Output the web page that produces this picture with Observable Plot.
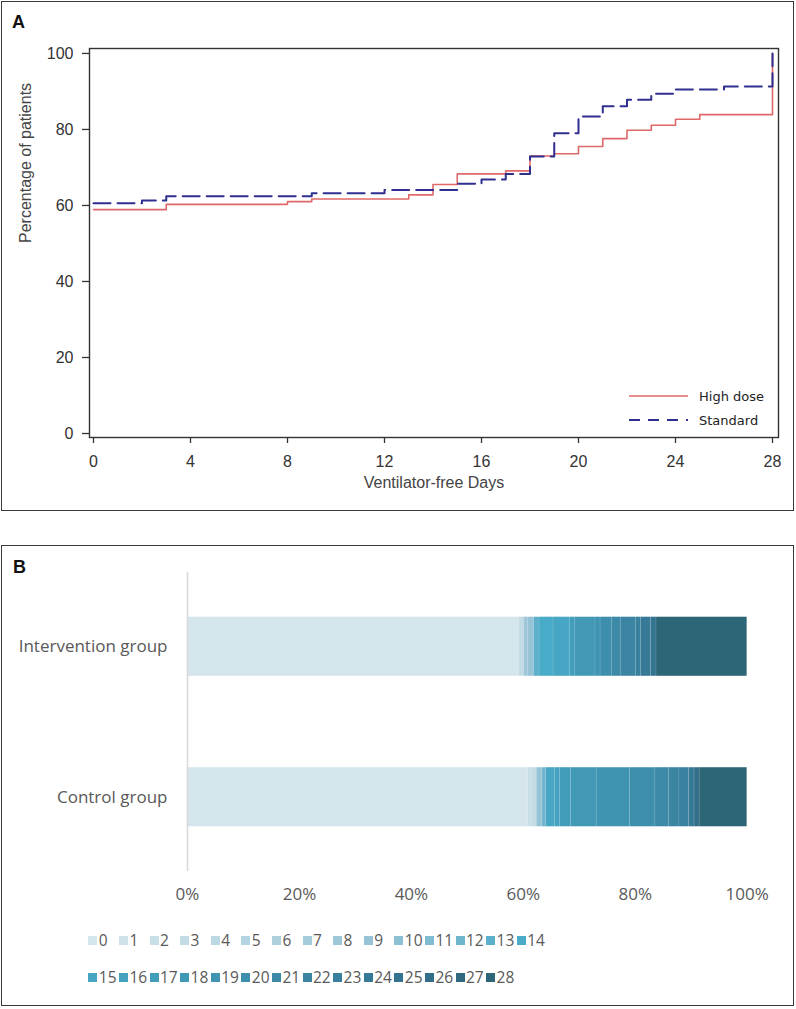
<!DOCTYPE html>
<html>
<head>
<meta charset="utf-8">
<script src="https://cdn.jsdelivr.net/npm/d3@7"></script>
<script src="https://cdn.jsdelivr.net/npm/@observablehq/plot@0.6"></script>
<style>
  body { margin: 0; background: #fff; }
  #page { position: relative; width: 796px; height: 1009px; overflow: hidden; background: #fff; }
  .panel { position: absolute; box-sizing: border-box; border: 1.5px solid #3a3a3a; }
  .tag { position: absolute; font: bold 18px "Liberation Sans", Arial, sans-serif; color: #111; line-height: 18px; }
  .abs { position: absolute; }
  .lg-sw { position: absolute; width: 9px; height: 9px; }
  .lg-tx { position: absolute; font: 15.5px "Open Sans", sans-serif; color: #595959; line-height: 20px; white-space: nowrap; }
</style>
</head>
<body>
<div id="page">
  <div class="panel" style="left:1px;top:1px;width:793px;height:510px;"></div>
  <div class="panel" style="left:1px;top:545px;width:793px;height:461px;"></div>
  <div class="tag" style="left:12px;top:13px;">A</div>
  <div class="tag" style="left:13px;top:558px;">B</div>
  <div id="plotA" class="abs" style="left:0;top:0;"></div>
  <div id="legendA" class="abs" style="left:620px;top:384px;"></div>
  <div id="plotB" class="abs" style="left:0;top:546px;"></div>
  <div id="legendB" class="abs" style="left:0;top:0;"></div>
</div>
<script>
// ---------- Panel A data (cumulative curves) ----------
const seriesNames = ["High dose", "Standard"];
const seriesColors = ["#e06868", "#2f2f8f"];
const highDoseDays = [0, 3, 8, 9, 13, 14, 15, 17, 18, 19, 20, 21, 22, 23, 24, 25, 28];
const highDosePct  = [58.9, 60.3, 61.0, 61.7, 62.8, 65.5, 68.3, 69.1, 73.0, 73.6, 75.5, 77.6, 79.8, 81.1, 82.7, 83.9, 100];
const standardDays = [0, 2, 3, 9, 12, 15, 16, 17, 18, 19, 20, 21, 22, 23, 24, 26, 28];
const standardPct  = [60.6, 61.3, 62.4, 63.2, 64.1, 65.7, 66.8, 68.3, 72.9, 79.0, 83.4, 86.1, 87.8, 89.4, 90.5, 91.3, 100];
const xTicksA = [0, 4, 8, 12, 16, 20, 24, 28];
const yTicksA = [0, 20, 40, 60, 80, 100];
const xTitleA = "Ventilator-free Days";
const yTitleA = "Percentage of patients";

// ---------- Panel B data (stacked distribution of ventilator-free days) ----------
const groups = ["Intervention group", "Control group"];
const vfdDays = [0,1,2,3,4,5,6,7,8,9,10,11,12,13,14,15,16,17,18,19,20,21,22,23,24,25,26,27,28];
const vfdColors = ["#d5e5ec","#cfe2ea","#c9dfe8","#c3dbe5","#bcd8e3","#b5d4e1","#aed0de","#a6ccdb","#9ec8d9","#96c4d6","#8cc0d4","#80bbd1","#70b5ce","#5db0cb","#48abc7","#46a6c3","#44a1bf","#429dbb","#4199b6","#3f94b2","#3e8fad","#3c8aa8","#3b85a3","#39809e","#377a98","#357491","#326e89","#306880","#2d6676"];
const interventionDays = [0, 3, 8, 9, 13, 14, 15, 17, 18, 19, 20, 21, 22, 23, 24, 25, 28];
const interventionPct  = [59.2, 0.9, 0.8, 1.0, 1.0, 2.5, 3.0, 0.9, 3.6, 0.9, 2.1, 1.5, 2.7, 0.9, 1.8, 1.0, 16.2];
const controlDays = [0, 2, 3, 9, 12, 15, 16, 17, 18, 19, 20, 21, 22, 23, 24, 26, 28];
const controlPct  = [60.8, 0.7, 0.9, 1.0, 0.7, 1.6, 0.9, 1.9, 4.6, 6.0, 4.5, 2.4, 1.9, 1.7, 1.0, 0.9, 8.5];
const xTicksB = [0, 20, 40, 60, 80, 100];

// ---------- Panel A ----------
const highRows = highDoseDays.map((d, i) => ({day: d, pct: highDosePct[i]}));
const stdRows = standardDays.map((d, i) => ({day: d, pct: standardPct[i]}));

const plotA = Plot.plot({
  width: 796,
  height: 511,
  marginLeft: 89,
  marginRight: 18,
  marginTop: 48,
  marginBottom: 74,
  x: {domain: [-0.165, 28.247]},
  y: {domain: [-1.05, 101.3]},
  style: {fontFamily: '"Liberation Sans", Arial, sans-serif', fontSize: "16px", color: "#333", background: "transparent", overflow: "visible"},
  marks: [
    Plot.axisX({ticks: xTicksA, tickSize: 6, tickPadding: 12, label: null, strokeWidth: 1.3}),
    Plot.axisY({ticks: yTicksA, tickSize: 7, tickPadding: 9, label: null, strokeWidth: 1.3}),
    Plot.line(highRows, {x: "day", y: "pct", curve: "step-after", stroke: seriesColors[0], strokeWidth: 1.6}),
    Plot.line(stdRows, {x: "day", y: "pct", curve: "step-after", stroke: seriesColors[1], strokeWidth: 2, strokeDasharray: "17,7"}),
    Plot.frame({stroke: "#333", strokeWidth: 1.4}),
    Plot.text([xTitleA], {frameAnchor: "bottom", dy: 50, fill: "#444", fontSize: 16}),
    Plot.text([yTitleA], {frameAnchor: "left", dx: -64, rotate: -90, fill: "#444", fontSize: 16})
  ]
});
document.getElementById("plotA").appendChild(plotA);

// legend A
const lgA = d3.select("#legendA").append("svg").attr("width", 170).attr("height", 50);
const lgRows = lgA.selectAll("g").data(seriesNames).join("g")
  .attr("transform", (d, i) => `translate(0,${12 + i * 24})`);
lgRows.append("line")
  .attr("x1", 9).attr("x2", 68).attr("y1", 0).attr("y2", 0)
  .attr("stroke", (d, i) => seriesColors[i])
  .attr("stroke-width", (d, i) => i === 0 ? 1.6 : 2)
  .attr("stroke-dasharray", (d, i) => i === 0 ? null : "11,8");
lgRows.append("text")
  .attr("x", 79).attr("y", 5)
  .attr("font-family", '"DejaVu Sans", Verdana, sans-serif')
  .attr("font-size", 13)
  .attr("fill", "#222")
  .text(d => d);

// ---------- Panel B ----------
const rowsB = [
  ...interventionDays.map((d, i) => ({group: groups[0], day: d, pct: interventionPct[i]})),
  ...controlDays.map((d, i) => ({group: groups[1], day: d, pct: controlPct[i]}))
];

const plotB = Plot.plot({
  width: 796,
  height: 365,
  marginLeft: 187,
  marginRight: 49.3,
  marginTop: 26,
  marginBottom: 40,
  x: {domain: [0, 100]},
  y: {domain: groups, paddingInner: 0.607, paddingOuter: 0.297, round: false},
  color: {type: "ordinal", domain: vfdDays, range: vfdColors},
  style: {fontFamily: '"Open Sans", sans-serif', fontSize: "17px", color: "#595959", background: "transparent", overflow: "visible"},
  marks: [
    Plot.barX(rowsB, Plot.stackX({x: "pct", y: "group", fill: "day", stroke: "#ffffff", strokeOpacity: 0.15, strokeWidth: 0.6})),
    Plot.ruleX([0], {stroke: "#d9d9d9", strokeWidth: 1.6}),
    Plot.axisX({ticks: xTicksB, tickFormat: d => d + "%", tickSize: 0, tickPadding: 16, label: null}),
    Plot.axisY({tickSize: 0, tickPadding: 20, label: null})
  ]
});
document.getElementById("plotB").appendChild(plotB);

// legend B
const perRow = 15;
const pitch = 30.6;
const rowCenters = [940.3, 977.3];
const lgB = d3.select("#legendB");
vfdDays.forEach((d, i) => {
  const col = i % perRow;
  const row = Math.floor(i / perRow);
  const left = 88.3 + pitch * col;
  const cy = rowCenters[row];
  lgB.append("div").attr("class", "lg-sw")
    .style("left", left + "px").style("top", (cy - 4.5) + "px")
    .style("background", vfdColors[i]);
  lgB.append("div").attr("class", "lg-tx")
    .style("left", (left + 10.5) + "px").style("top", (cy - 10) + "px")
    .text(String(d));
});
</script>
</body>
</html>
